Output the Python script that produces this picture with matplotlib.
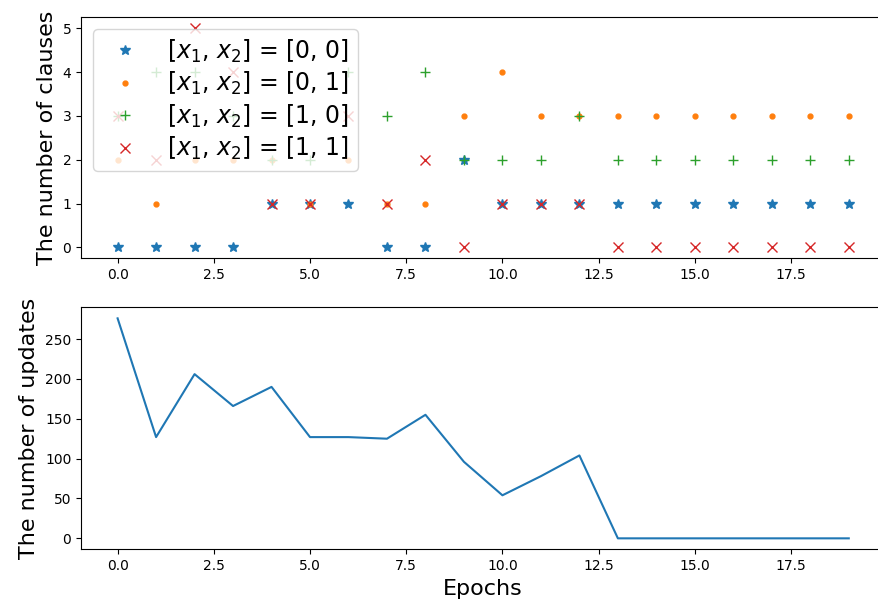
import matplotlib
matplotlib.use("Agg")
import matplotlib.pyplot as plt
import numpy as np

epochs = list(range(20))

clauses_00 = [0, 0, 0, 0, 1, 1, 1, 0, 0, 2, 1, 1, 1, 1, 1, 1, 1, 1, 1, 1]
clauses_01 = [2, 1, 2, 2, 2, 1, 2, 1, 1, 3, 4, 3, 3, 3, 3, 3, 3, 3, 3, 3]
clauses_10 = [3, 4, 4, 3, 2, 2, 4, 3, 4, 2, 2, 2, 3, 2, 2, 2, 2, 2, 2, 2]
clauses_11 = [3, 2, 5, 4, 1, 1, 3, 1, 2, 0, 1, 1, 1, 0, 0, 0, 0, 0, 0, 0]

updates = [276, 127, 206, 166, 190, 127, 127, 125, 155, 96,
           54, 78, 104, 0, 0, 0, 0, 0, 0, 0]

series_labels = [r"[$x_1$, $x_2$] = [0, 0]", r"[$x_1$, $x_2$] = [0, 1]",
                 r"[$x_1$, $x_2$] = [1, 0]", r"[$x_1$, $x_2$] = [1, 1]"]

fig = plt.figure(figsize=(8.79, 6.05), dpi=100)
ax1 = fig.add_axes([0.0922, 0.573, 0.915, 0.3984])
ax2 = fig.add_axes([0.0922, 0.092, 0.915, 0.400])

ms = 7
ax1.plot(epochs, clauses_00, linestyle="", marker="*", color="C0", ms=ms, label=series_labels[0])
ax1.plot(epochs, clauses_01, linestyle="", marker=".", color="C1", ms=ms, label=series_labels[1])
ax1.plot(epochs, clauses_10, linestyle="", marker="+", color="C2", ms=ms, label=series_labels[2])
ax1.plot(epochs, clauses_11, linestyle="", marker="x", color="C3", ms=ms, label=series_labels[3])
ax1.set_ylabel("The number of clauses", fontsize=16)
ax1.legend(loc="upper left", fontsize=17, labelspacing=0.23,
           handletextpad=0.8, borderpad=0.35, borderaxespad=0.5)

ax2.plot(epochs, updates, color="C0", lw=1.5)
ax2.set_ylabel("The number of updates", fontsize=16)
ax2.set_xlabel("Epochs", fontsize=16)

fig.savefig("out.png", dpi=100)
